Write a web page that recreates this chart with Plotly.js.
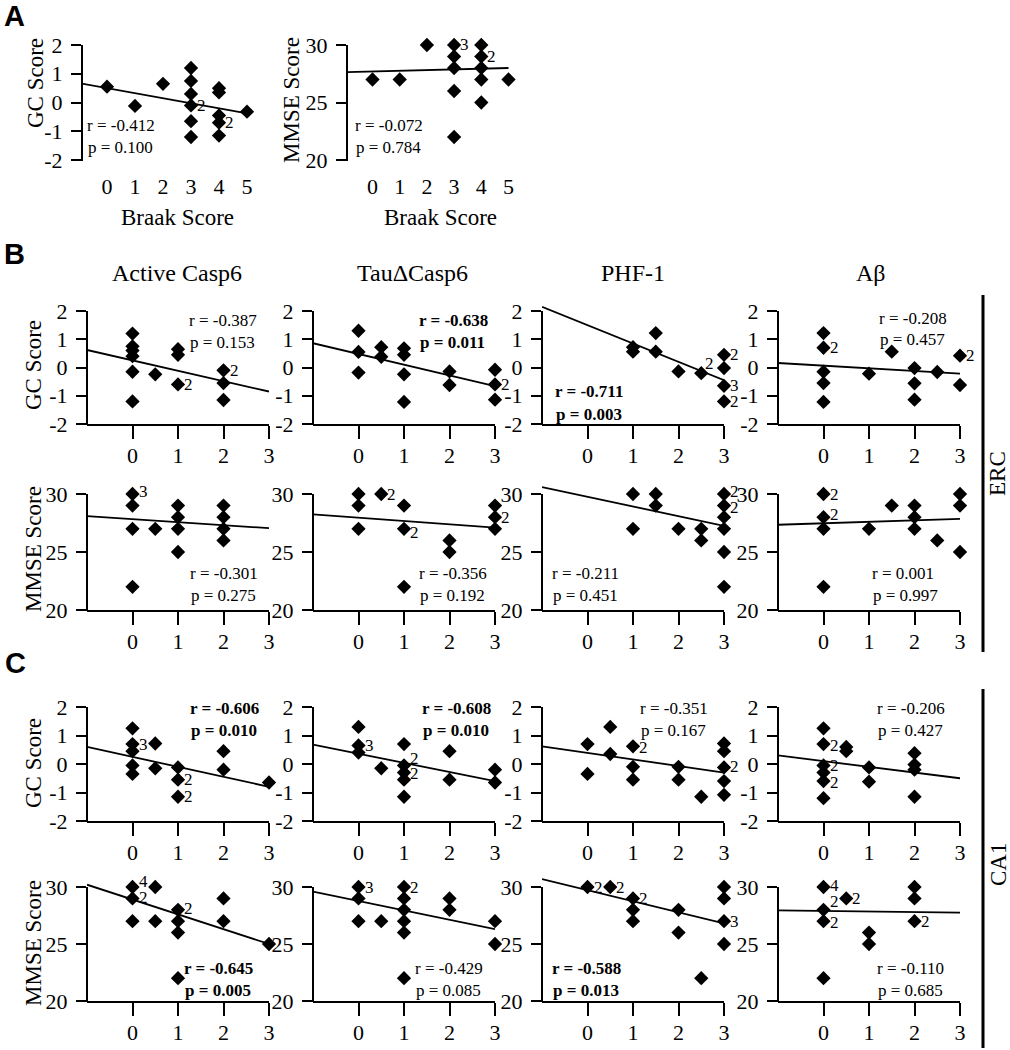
<!DOCTYPE html>
<html><head><meta charset="utf-8">
<script src="https://cdn.plot.ly/plotly-3.0.1.min.js"></script>
<style>html,body{margin:0;padding:0;background:#fff;} #chart{width:1010px;height:1050px;}</style>
</head><body><div id="chart"></div>
<script>
// ================= DATA =================
const braakTicks = [0,1,2,3,4,5];
const scoreTicks = [0,1,2,3];
const gcTicks = [-2,-1,0,1,2];
const mmseTicks = [20,25,30];
const columnTitles = ['Active Casp6','TauΔCasp6','PHF-1','Aβ'];
const regionLabels = ['ERC','CA1'];
const scoreFitX = [-1,3];

// Panel A: Braak score vs GC score
const braakGC_x = [0,1,2,3,3,3,3,3,3,4,4,4,4,4,5];
const braakGC_y = [0.55,-0.12,0.65,1.2,0.75,0.3,-0.1,-0.65,-1.2,0.5,0.35,-0.45,-0.7,-1.15,-0.32];
const braakGC_fitX = [-0.9,5];
const braakGC_fitY = [0.66,-0.38];
const braakGC_counts = [[3,-0.1,'2'],[4,-0.7,'2']];
const braakGC_stats = ['r = -0.412','p = 0.100'];

// Panel A: Braak score vs MMSE score
const braakMMSE_x = [0,1,2,3,3,3,3,3,4,4,4,4,4,5];
const braakMMSE_y = [27,27,30,30,29,28,26,22,30,29,28,27,25,27];
const braakMMSE_fitX = [-0.94,5];
const braakMMSE_fitY = [27.65,28.0];
const braakMMSE_counts = [[3,30,'3'],[4,29,'2']];
const braakMMSE_stats = ['r = -0.072','p = 0.784'];

// Panel B (ERC): GC score
const ercGC_casp6_x = [0,0,0,0,0,0,0.5,1,1,1,2,2,2];
const ercGC_casp6_y = [1.2,0.75,0.6,0.4,-0.15,-1.2,-0.24,0.65,0.45,-0.6,-0.1,-0.55,-1.15];
const ercGC_casp6_fit = [0.62,-0.85];
const ercGC_casp6_counts = [[1,-0.6,'2'],[2,-0.1,'2']];
const ercGC_casp6_stats = ['r = -0.387','p = 0.153'];

const ercGC_tau_x = [0,0,0,0.5,0.5,1,1,1,1,2,2,3,3,3];
const ercGC_tau_y = [1.3,0.55,-0.18,0.72,0.38,0.68,0.45,-0.24,-1.22,-0.14,-0.62,-0.08,-0.6,-1.14];
const ercGC_tau_fit = [0.86,-0.66];
const ercGC_tau_counts = [[3,-0.6,'2']];
const ercGC_tau_stats = ['r = -0.638','p = 0.011'];

const ercGC_phf_x = [1,1,1.5,1.5,2,2.5,3,3,3,3];
const ercGC_phf_y = [0.72,0.56,1.22,0.56,-0.14,-0.2,0.45,-0.02,-0.65,-1.2];
const ercGC_phf_fit = [2.15,-0.45];
const ercGC_phf_counts = [[2.45,0.15,'2'],[3,0.45,'2'],[3,-0.62,'3'],[3,-1.2,'2']];
const ercGC_phf_stats = ['r = -0.711','p = 0.003'];

const ercGC_abeta_x = [0,0,0,0,0,1,1.5,2,2,2,2.5,3,3];
const ercGC_abeta_y = [1.22,0.7,-0.15,-0.55,-1.22,-0.22,0.56,-0.02,-0.56,-1.14,-0.16,0.42,-0.62];
const ercGC_abeta_fit = [0.16,-0.22];
const ercGC_abeta_counts = [[0,0.7,'2'],[3,0.42,'2']];
const ercGC_abeta_stats = ['r = -0.208','p = 0.457'];

// Panel B (ERC): MMSE score
const ercMMSE_casp6_x = [0,0,0,0,0.5,1,1,1,1,2,2,2,2];
const ercMMSE_casp6_y = [30,29,27,22,27,29,28,27,25,29,28,27,26];
const ercMMSE_casp6_fit = [28.1,27.05];
const ercMMSE_casp6_counts = [[0,30.2,'3']];
const ercMMSE_casp6_stats = ['r = -0.301','p = 0.275'];

const ercMMSE_tau_x = [0,0,0,0.5,1,1,1,2,2,3,3,3];
const ercMMSE_tau_y = [30,29,27,30,29,27,22,26,25,29,28,27];
const ercMMSE_tau_fit = [28.25,27.1];
const ercMMSE_tau_counts = [[0.5,30,'2'],[1,26.7,'2'],[3,28,'2']];
const ercMMSE_tau_stats = ['r = -0.356','p = 0.192'];

const ercMMSE_phf_x = [1,1,1.5,1.5,2,2.5,2.5,3,3,3,3,3,3];
const ercMMSE_phf_y = [30,27,30,29,27,27,26,30,29,28,27,25,22];
const ercMMSE_phf_fit = [30.6,27.25];
const ercMMSE_phf_counts = [[3,30.25,'2'],[3,28.8,'2']];
const ercMMSE_phf_stats = ['r = -0.211','p = 0.451'];

const ercMMSE_abeta_x = [0,0,0,0,1,1.5,2,2,2,2.5,3,3,3];
const ercMMSE_abeta_y = [30,28,27,22,27,29,29,28,27,26,30,29,25];
const ercMMSE_abeta_fit = [27.35,27.85];
const ercMMSE_abeta_counts = [[0,30,'2'],[0,28.2,'2']];
const ercMMSE_abeta_stats = ['r = 0.001','p = 0.997'];

// Panel C (CA1): GC score
const ca1GC_casp6_x = [0,0,0,0,0,0.5,0.5,1,1,1,2,2,3];
const ca1GC_casp6_y = [1.25,0.7,0.45,-0.05,-0.35,0.72,-0.15,-0.12,-0.55,-1.15,0.45,-0.2,-0.65];
const ca1GC_casp6_fit = [0.6,-0.8];
const ca1GC_casp6_counts = [[0,0.7,'3'],[1,-0.55,'2'],[1,-1.15,'2']];
const ca1GC_casp6_stats = ['r = -0.606','p = 0.010'];

const ca1GC_tau_x = [0,0,0,0.5,1,1,1,1,1,2,2,3,3];
const ca1GC_tau_y = [1.3,0.65,0.4,-0.15,0.7,-0.05,-0.3,-0.55,-1.15,0.45,-0.55,-0.2,-0.65];
const ca1GC_tau_fit = [0.68,-0.6];
const ca1GC_tau_counts = [[0,0.65,'3'],[1,0.2,'2'],[1,-0.35,'2']];
const ca1GC_tau_stats = ['r = -0.608','p = 0.010'];

const ca1GC_phf_x = [0,0,0.5,0.5,1,1,1,2,2,2.5,3,3,3,3,3];
const ca1GC_phf_y = [0.7,-0.35,1.3,0.35,0.62,-0.1,-0.55,-0.1,-0.55,-1.15,0.72,0.45,-0.12,-0.6,-1.08];
const ca1GC_phf_fit = [0.62,-0.3];
const ca1GC_phf_counts = [[1,0.58,'2'],[3,-0.1,'2']];
const ca1GC_phf_stats = ['r = -0.351','p = 0.167'];

const ca1GC_abeta_x = [0,0,0,0,0,0,0.5,0.5,1,1,2,2,2,2];
const ca1GC_abeta_y = [1.25,0.7,-0.05,-0.3,-0.6,-1.2,0.6,0.45,-0.12,-0.62,0.38,-0.02,-0.2,-1.15];
const ca1GC_abeta_fit = [0.3,-0.5];
const ca1GC_abeta_counts = [[0,0.65,'2'],[0,-0.05,'2'],[0,-0.65,'2']];
const ca1GC_abeta_stats = ['r = -0.206','p = 0.427'];

// Panel C (CA1): MMSE score
const ca1MMSE_casp6_x = [0,0,0,0.5,0.5,1,1,1,1,2,2,3];
const ca1MMSE_casp6_y = [30,29,27,30,27,28,27,26,22,29,27,25];
const ca1MMSE_casp6_fit = [30.2,25.0];
const ca1MMSE_casp6_counts = [[0,30.5,'4'],[0,29.1,'2'],[1,28.1,'2']];
const ca1MMSE_casp6_stats = ['r = -0.645','p = 0.005'];

const ca1MMSE_tau_x = [0,0,0,0.5,1,1,1,1,1,1,2,2,3,3];
const ca1MMSE_tau_y = [30,29,27,27,30,29,28,27,26,22,29,28,27,25];
const ca1MMSE_tau_fit = [29.6,26.3];
const ca1MMSE_tau_counts = [[0,30,'3'],[1,30,'2']];
const ca1MMSE_tau_stats = ['r = -0.429','p = 0.085'];

const ca1MMSE_phf_x = [0,0.5,1,1,1,2,2,2.5,3,3,3,3];
const ca1MMSE_phf_y = [30,30,29,28,27,28,26,22,30,29,27,25];
const ca1MMSE_phf_fit = [30.7,26.8];
const ca1MMSE_phf_counts = [[0,30,'2'],[0.5,30,'2'],[1,29,'2'],[3,27,'3']];
const ca1MMSE_phf_stats = ['r = -0.588','p = 0.013'];

const ca1MMSE_abeta_x = [0,0,0,0,0.5,1,1,2,2,2];
const ca1MMSE_abeta_y = [30,28,27,22,29,26,25,30,29,27];
const ca1MMSE_abeta_fit = [27.95,27.75];
const ca1MMSE_abeta_counts = [[0,30.15,'4'],[0,28.7,'2'],[0,26.9,'2'],[0.5,29,'2'],[2,27,'2']];
const ca1MMSE_abeta_stats = ['r = -0.110','p = 0.685'];

// ================= LAYOUT GEOMETRY (pixels) =================
const W = 1010, H = 1050;
const FONT = 'Liberation Serif';
const SANS = 'Liberation Sans';
const COLS = [87, 313, 542, 778];
const XUNIT = 45.5;
const ROWS = {ercGC:[311,424], ercMMSE:[494,610], ca1GC:[707,821], ca1MMSE:[887,1001]};

function geoScore(col, row, isGC){
  return {L: COLS[col], R: COLS[col] + 4*XUNIT, xr: [-1,3], top: ROWS[row][0], bot: ROWS[row][1],
          yr: isGC ? [-2,2] : [20,30], ext: isGC ? 0.3 : 1.0, yt: isGC ? gcTicks : mmseTicks,
          xt: scoreTicks, showX: true};
}

const panels = [];
panels.push({x: braakGC_x, y: braakGC_y, fx: braakGC_fitX, fy: braakGC_fitY, counts: braakGC_counts,
  stats: braakGC_stats, bold: false, statPos: [85,125],
  geo: {L: 82, R: 82 + (5.3+0.893)*28, xr: [-0.893, 5.3], top: 45, bot: 160, yr: [-2,2], ext: 0, yt: gcTicks, xt: braakTicks, showX: false}});
panels.push({x: braakMMSE_x, y: braakMMSE_y, fx: braakMMSE_fitX, fy: braakMMSE_fitY, counts: braakMMSE_counts,
  stats: braakMMSE_stats, bold: false, statPos: [353,125],
  geo: {L: 347, R: 372.5 + 5.3*27.2, xr: [-25.5/27.2, 5.3], top: 45, bot: 160, yr: [20,30], ext: 0, yt: mmseTicks, xt: braakTicks, showX: false}});

const sets = [
  ['ercGC', true, [
    [ercGC_casp6_x, ercGC_casp6_y, ercGC_casp6_fit, ercGC_casp6_counts, ercGC_casp6_stats, false, [187,320]],
    [ercGC_tau_x, ercGC_tau_y, ercGC_tau_fit, ercGC_tau_counts, ercGC_tau_stats, true, [417,320]],
    [ercGC_phf_x, ercGC_phf_y, ercGC_phf_fit, ercGC_phf_counts, ercGC_phf_stats, true, [553,392]],
    [ercGC_abeta_x, ercGC_abeta_y, ercGC_abeta_fit, ercGC_abeta_counts, ercGC_abeta_stats, false, [877,318]]]],
  ['ercMMSE', false, [
    [ercMMSE_casp6_x, ercMMSE_casp6_y, ercMMSE_casp6_fit, ercMMSE_casp6_counts, ercMMSE_casp6_stats, false, [188,573]],
    [ercMMSE_tau_x, ercMMSE_tau_y, ercMMSE_tau_fit, ercMMSE_tau_counts, ercMMSE_tau_stats, false, [417,573]],
    [ercMMSE_phf_x, ercMMSE_phf_y, ercMMSE_phf_fit, ercMMSE_phf_counts, ercMMSE_phf_stats, false, [550,573]],
    [ercMMSE_abeta_x, ercMMSE_abeta_y, ercMMSE_abeta_fit, ercMMSE_abeta_counts, ercMMSE_abeta_stats, false, [870,573]]]],
  ['ca1GC', true, [
    [ca1GC_casp6_x, ca1GC_casp6_y, ca1GC_casp6_fit, ca1GC_casp6_counts, ca1GC_casp6_stats, true, [188,708]],
    [ca1GC_tau_x, ca1GC_tau_y, ca1GC_tau_fit, ca1GC_tau_counts, ca1GC_tau_stats, true, [420,708]],
    [ca1GC_phf_x, ca1GC_phf_y, ca1GC_phf_fit, ca1GC_phf_counts, ca1GC_phf_stats, false, [638,708]],
    [ca1GC_abeta_x, ca1GC_abeta_y, ca1GC_abeta_fit, ca1GC_abeta_counts, ca1GC_abeta_stats, false, [875,708]]]],
  ['ca1MMSE', false, [
    [ca1MMSE_casp6_x, ca1MMSE_casp6_y, ca1MMSE_casp6_fit, ca1MMSE_casp6_counts, ca1MMSE_casp6_stats, true, [182,968]],
    [ca1MMSE_tau_x, ca1MMSE_tau_y, ca1MMSE_tau_fit, ca1MMSE_tau_counts, ca1MMSE_tau_stats, false, [413,968]],
    [ca1MMSE_phf_x, ca1MMSE_phf_y, ca1MMSE_phf_fit, ca1MMSE_phf_counts, ca1MMSE_phf_stats, true, [550,968]],
    [ca1MMSE_abeta_x, ca1MMSE_abeta_y, ca1MMSE_abeta_fit, ca1MMSE_abeta_counts, ca1MMSE_abeta_stats, false, [875,968]]]]
];
sets.forEach(([row, isGC, list]) => {
  list.forEach((d, col) => {
    panels.push({x: d[0], y: d[1], fx: scoreFitX, fy: d[2], counts: d[3], stats: d[4], bold: d[5], statPos: d[6],
      geo: geoScore(col, row, isGC)});
  });
});

// ================= BUILD =================
const px = v => v / W;
const py = v => 1 - v / H;
const tickFont = {family: FONT, size: 22, color: '#000'};
const traces = [];
const layout = {width: W, height: H, margin: {l:0, r:0, t:0, b:0}, showlegend: false,
  paper_bgcolor: '#fff', plot_bgcolor: 'rgba(0,0,0,0)', annotations: [], shapes: [], font: {family: FONT, color: '#000'}};

panels.forEach((p, i) => {
  const n = i + 1, sfx = n === 1 ? '' : String(n);
  const xr = 'x' + sfx, yr = 'y' + sfx;
  const g = p.geo;
  const unitY = (g.bot - g.top) / (g.yr[1] - g.yr[0]);
  const topExt = g.top - g.ext * unitY;
  layout['xaxis' + sfx] = {domain: [px(g.L), px(g.R)], range: g.xr, anchor: yr, showline: g.showX,
    linewidth: 2, linecolor: '#000', ticks: g.showX ? 'outside' : '', ticklen: 13, tickwidth: 2, tickcolor: '#000',
    tickmode: 'array', tickvals: g.xt, ticktext: g.xt.map(String), tickfont: tickFont, showgrid: false, zeroline: false,
    fixedrange: true, ticklabelstandoff: g.showX ? -2 : 11};
  layout['yaxis' + sfx] = {domain: [py(g.bot), py(topExt)], range: [g.yr[0], g.yr[1] + g.ext], anchor: xr,
    showline: false, ticks: 'outside', ticklen: 10, tickwidth: 2, tickcolor: '#000', tickmode: 'array',
    tickvals: g.yt, ticktext: g.yt.map(String), tickfont: tickFont, showgrid: false, zeroline: false,
    fixedrange: true, ticklabelstandoff: 4};
  layout.shapes.push({type: 'line', xref: 'paper', yref: 'paper', x0: px(g.L), x1: px(g.L),
    y0: py(g.bot + 1), y1: py(g.top), line: {color: '#000', width: 2}});
  traces.push({type: 'scatter', mode: 'lines', x: p.fx, y: p.fy, xaxis: xr, yaxis: yr,
    line: {color: '#000', width: 1.8}, hoverinfo: 'skip'});
  traces.push({type: 'scatter', mode: 'markers', x: p.x, y: p.y, xaxis: xr, yaxis: yr, cliponaxis: false,
    marker: {symbol: 'diamond', size: 11, color: '#000', line: {width: 0}}});
  p.counts.forEach(c => {
    layout.annotations.push({xref: xr, yref: yr, x: c[0], y: c[1], text: c[2], showarrow: false,
      xanchor: 'left', yanchor: 'middle', xshift: 4, font: {family: FONT, size: 17, color: '#000'}});
  });
  p.stats.forEach((s, k) => {
    layout.annotations.push({xref: 'paper', yref: 'paper', x: px(p.statPos[0] + k), y: py(p.statPos[1] + 22 * k),
      text: p.bold ? '<b>' + s + '</b>' : s, showarrow: false, xanchor: 'left', yanchor: 'middle',
      font: {family: FONT, size: 17, color: '#000'}});
  });
});

// Titles & labels
function txt(x, y, text, size, opts) {
  layout.annotations.push(Object.assign({xref: 'paper', yref: 'paper', x: px(x), y: py(y), text: text,
    showarrow: false, xanchor: 'center', yanchor: 'middle', font: {family: FONT, size: size, color: '#000'}}, opts || {}));
}
// Braak axis titles (centred on ticks 0..5)
['x', 'x2'].forEach(ax => {
  layout.annotations.push({xref: ax, yref: 'paper', x: 2.5, y: py(217), text: 'Braak Score', showarrow: false,
    xanchor: 'center', yanchor: 'middle', font: {family: FONT, size: 23, color: '#000'}});
});
// y titles
txt(36, 83, 'GC Score', 23, {textangle: -90});
txt(291, 100, 'MMSE Score', 23, {textangle: -90});
txt(33, 365, 'GC Score', 23, {textangle: -90});
txt(33, 549, 'MMSE Score', 23, {textangle: -90});
txt(33, 763, 'GC Score', 23, {textangle: -90});
txt(33, 943, 'MMSE Score', 23, {textangle: -90});
// column titles
const colTitleX = [177, 412, 633, 871];
columnTitles.forEach((t, k) => txt(colTitleX[k], 273, t, 24));
// panel letters
txt(14, 16, '<b>A</b>', 29, {font: {family: SANS, size: 29, color: '#000'}});
txt(14, 254, '<b>B</b>', 29, {font: {family: SANS, size: 29, color: '#000'}});
txt(15, 663, '<b>C</b>', 29, {font: {family: SANS, size: 29, color: '#000'}});
// region labels and bars
txt(998, 474, regionLabels[0], 23, {textangle: -90});
txt(998, 865, regionLabels[1], 23, {textangle: -90});
layout.shapes.push({type: 'line', xref: 'paper', yref: 'paper', x0: px(983), x1: px(983), y0: py(295), y1: py(652), line: {color: '#000', width: 3}});
layout.shapes.push({type: 'line', xref: 'paper', yref: 'paper', x0: px(983), x1: px(983), y0: py(689), y1: py(1048), line: {color: '#000', width: 3}});

Plotly.newPlot('chart', traces, layout, {staticPlot: true, displayModeBar: false});
</script></body></html>
